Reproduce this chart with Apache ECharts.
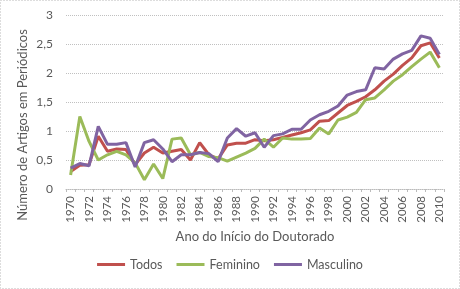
<!DOCTYPE html>
<html lang="pt">
<head>
  <meta charset="UTF-8">
  <title>Número de Artigos em Periódicos</title>
  <script src="https://cdn.jsdelivr.net/npm/echarts@6/dist/echarts.min.js"></script>
  <style>
    html, body { margin: 0; padding: 0; background: #fff; }
    #main { width: 460px; height: 289px; }
  </style>
</head>
<body>
  <div id="main"></div>
  <script>
    // anos de início do doutorado
    var anos = ['1970','1971','1972','1973','1974','1975','1976','1977','1978','1979',
                '1980','1981','1982','1983','1984','1985','1986','1987','1988','1989',
                '1990','1991','1992','1993','1994','1995','1996','1997','1998','1999',
                '2000','2001','2002','2003','2004','2005','2006','2007','2008','2009','2010'];

    var todos = [0.30, 0.41, 0.42, 0.91, 0.65, 0.69, 0.68, 0.42, 0.62, 0.72,
                 0.62, 0.65, 0.68, 0.50, 0.80, 0.59, 0.52, 0.76, 0.79, 0.79,
                 0.85, 0.83, 0.85, 0.89, 0.93, 0.97, 1.02, 1.17, 1.18, 1.31,
                 1.44, 1.51, 1.59, 1.71, 1.86, 1.98, 2.13, 2.26, 2.47, 2.52, 2.26];

    var feminino = [0.24, 1.25, 0.82, 0.50, 0.59, 0.65, 0.59, 0.45, 0.16, 0.43,
                    0.18, 0.86, 0.88, 0.59, 0.63, 0.56, 0.54, 0.48, 0.55, 0.62,
                    0.70, 0.86, 0.72, 0.88, 0.86, 0.86, 0.87, 1.05, 0.95, 1.19,
                    1.24, 1.32, 1.54, 1.57, 1.71, 1.86, 1.97, 2.11, 2.24, 2.36, 2.09];

    var masculino = [0.36, 0.44, 0.40, 1.08, 0.77, 0.77, 0.80, 0.38, 0.80, 0.85,
                     0.69, 0.47, 0.59, 0.59, 0.63, 0.61, 0.47, 0.88, 1.04, 0.91,
                     0.97, 0.72, 0.92, 0.95, 1.03, 1.03, 1.19, 1.28, 1.34, 1.43,
                     1.62, 1.68, 1.71, 2.09, 2.07, 2.24, 2.33, 2.39, 2.64, 2.60, 2.32];

    var nomes = ['Todos', 'Feminino', 'Masculino'];
    var cores = ['#C0504D', '#9BBB59', '#8064A2'];

    var fonte = 'Lato, "Open Sans", sans-serif';
    var cinza = '#595959';

    var myChart = echarts.init(document.getElementById('main'));

    function serie(nome, dados, cor) {
      return {
        name: nome,
        type: 'line',
        data: dados,
        symbol: 'none',
        lineStyle: { color: cor, width: 3 },
        itemStyle: { color: cor }
      };
    }

    var option = {
      animation: false,
      textStyle: { fontFamily: fonte },
      grid: { left: 66, right: 16, top: 15, bottom: 100 },
      graphic: [{
        type: 'rect',
        shape: { x: 0.5, y: 0.5, width: 459, height: 288 },
        style: { fill: 'none', stroke: '#bbb', lineWidth: 1, lineDash: [1, 2] }
      }, {
        // título do eixo y (um pouco abaixo do centro, como no original)
        type: 'text',
        x: 23,
        y: 125,
        rotation: Math.PI / 2,
        style: {
          text: 'Número de Artigos em Periódicos',
          fill: cinza,
          font: '13px ' + fonte,
          align: 'center',
          verticalAlign: 'middle'
        }
      }],
      legend: {
        bottom: 13,
        left: 'center',
        icon: 'rect',
        itemWidth: 28,
        itemHeight: 3,
        itemGap: 14,
        textStyle: { color: cinza, fontSize: 12.5, fontFamily: fonte },
        data: nomes
      },
      xAxis: {
        type: 'category',
        data: anos,
        boundaryGap: true,
        name: 'Ano do Início do Doutorado',
        nameLocation: 'middle',
        nameGap: 37,
        nameTextStyle: { color: cinza, fontSize: 13, fontFamily: fonte },
        axisLine: { lineStyle: { color: '#bbb', type: 'dotted' } },
        axisTick: { show: true, interval: 0, length: 3, lineStyle: { color: '#bbb' } },
        axisLabel: { rotate: 90, interval: 1, margin: 7, color: cinza, fontSize: 11.5, fontFamily: fonte }
      },
      yAxis: {
        type: 'value',
        min: 0,
        max: 3,
        interval: 0.5,
        axisLine: { show: false },
        axisTick: { show: false },
        splitLine: { lineStyle: { color: '#c0c0c0', type: 'dotted' } },
        axisLabel: {
          margin: 13,
          color: cinza,
          fontSize: 12,
          fontFamily: fonte,
          formatter: function (v) { return String(v).replace('.', ','); }
        }
      },
      series: [
        serie(nomes[0], todos, cores[0]),
        serie(nomes[1], feminino, cores[1]),
        serie(nomes[2], masculino, cores[2])
      ]
    };

    myChart.setOption(option);
  </script>
</body>
</html>
